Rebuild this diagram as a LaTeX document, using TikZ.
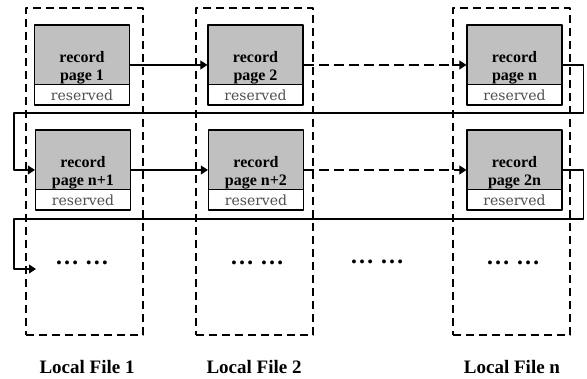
\documentclass[tikz,border=0pt]{standalone}
\usepackage{fontspec}
\setmainfont{Liberation Serif}
\newfontfamily\resfont{DejaVu Serif}
\usetikzlibrary{shapes.multipart,arrows.meta}
\definecolor{pagegray}{RGB}{192,192,192}
\definecolor{resgray}{RGB}{80,80,80}
\newcommand{\recpage}[1]{\parbox[c][55pt][b]{95pt}{\centering\bfseries record\\#1}}
\newcommand{\restext}{\parbox[c][19pt][c]{95pt}{\centering\resfont\fontsize{14}{14}\selectfont\color{resgray}reserved}}
\tikzset{
	filebox/.style={draw,dashed,line width=1.3pt,dash pattern=on 8pt off 5pt,minimum width=117pt,minimum height=327pt,inner sep=0pt},
	page/.style={rectangle split,rectangle split parts=2,draw,line width=1.2pt,inner sep=0pt,
		rectangle split part fill={pagegray,white}},
	link/.style={line width=1.1pt,->},
	linkdash/.style={link,dash pattern=on 10pt off 5pt},
	dots/.style={font=\fontsize{24}{24}\selectfont\bfseries},
	filelabel/.style={font=\fontsize{19}{20}\selectfont\bfseries}
}
\begin{document}
\begin{tikzpicture}[x=1pt,y=-1pt,line join=round,>={Triangle[length=7pt,width=9pt]},font=\fontsize{16}{18}\selectfont]
	\useasboundingbox (0,0) rectangle (587,379);
	
	\node[filebox] (f1) at (84.5,171.5) {};
	\node[filebox] (f2) at (254.5,171.5) {};
	\node[filebox] (fn) at (511.5,171.5) {};
	
	\node[page] (p1) at (82,65) {\recpage{page 1}\nodepart{two}\restext};
	\node[page] (p2) at (255.5,65) {\recpage{page 2}\nodepart{two}\restext};
	\node[page] (pn) at (514.5,65) {\recpage{page n}\nodepart{two}\restext};
	\node[page] (pn1) at (83,170) {\recpage{page n+1}\nodepart{two}\restext};
	\node[page] (pn2) at (256,170) {\recpage{page n+2}\nodepart{two}\restext};
	\node[page] (p2n) at (514.5,170) {\recpage{page 2n}\nodepart{two}\restext};
	
	\node[dots] (d1) at (82,263) {… …};
	\node[dots] (d2) at (257,263) {… …};
	\node[dots] (dm) at (377,262) {… …};
	\node[dots] (dn) at (513,263) {… …};
	\coordinate (din) at (36,269);
	
	\node[filelabel] (l1) at (87,367) {Local File 1};
	\node[filelabel] (l2) at (254,367) {Local File 2};
	\node[filelabel] (ln) at (512,367) {Local File n};
	
	\draw[link] (p1.east) -- (p2.west);
	\draw[linkdash] (p2.east) -- (pn.west);
	\draw[link] (pn.east) -- ++(21,0) |- (14,113) |- (pn1.west);
	\draw[link] (pn1.east) -- (pn2.west);
	\draw[linkdash] (pn2.east) -- (p2n.west);
	\draw[link] (p2n.east) -- ++(21,0) |- (14,219) |- (din);
\end{tikzpicture}
\end{document}
